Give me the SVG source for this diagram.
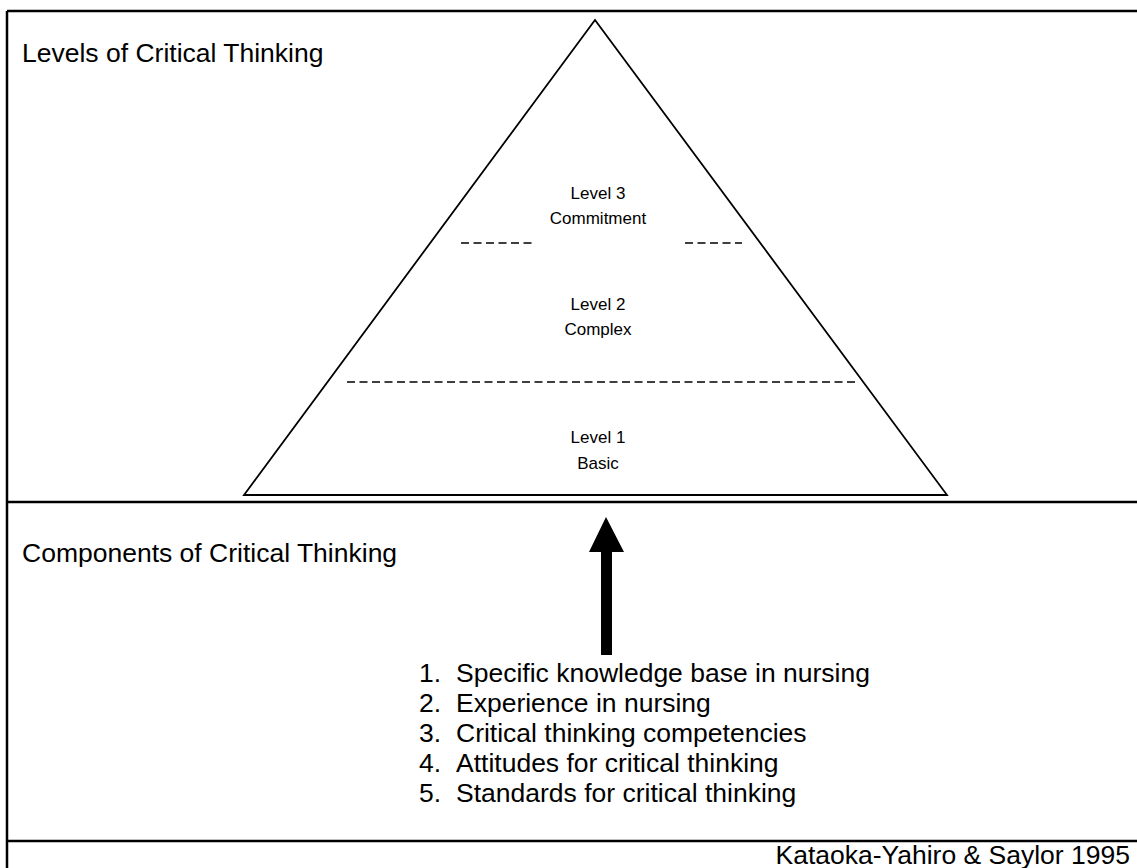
<svg xmlns="http://www.w3.org/2000/svg" width="1137" height="868" viewBox="0 0 1137 868">
<style>
.t{font-family:"Liberation Sans",Arial,sans-serif;fill:#000}
.big{font-size:26.5px}
.lvl{font-size:17px;text-anchor:middle}
.frame{stroke:#000;stroke-width:2.5;fill:none}
.dash{stroke:#000;stroke-width:1.5;stroke-dasharray:8 4.5;fill:none}
</style>
<rect width="1137" height="868" fill="#fff"/>
<g id="frame">
<line class="frame" x1="7" y1="11" x2="1137" y2="11"/>
<line class="frame" x1="7" y1="11" x2="7" y2="868"/>
<line class="frame" x1="7" y1="502" x2="1137" y2="502"/>
<line class="frame" x1="7" y1="841" x2="1137" y2="841"/>
</g>
<g id="pyramid">
<polygon points="595,20 244,495 947,495" fill="none" stroke="#000" stroke-width="1.8"/>
<line class="dash" x1="461" y1="243" x2="536" y2="243"/>
<line class="dash" x1="685" y1="243" x2="742" y2="243"/>
<line class="dash" x1="347" y1="382" x2="857" y2="382"/>
</g>
<g id="level3"><text class="t lvl" x="598" y="199">Level 3</text><text class="t lvl" x="598" y="224">Commitment</text></g>
<g id="level2"><text class="t lvl" x="598" y="310">Level 2</text><text class="t lvl" x="598" y="335">Complex</text></g>
<g id="level1"><text class="t lvl" x="598" y="443">Level 1</text><text class="t lvl" x="598" y="469">Basic</text></g>
<g id="headings">
<text class="t big" x="22" y="62">Levels of Critical Thinking</text>
<text class="t big" x="22" y="562">Components of Critical Thinking</text>
</g>
<g id="connectors">
<polygon points="606,517 624,552 612,552 612,655 601,655 601,552 589,552" fill="#000"/>
</g>
<g id="components">
<text class="t big" x="419" y="682">1.</text><text class="t big" x="456" y="682">Specific knowledge base in nursing</text>
<text class="t big" x="419" y="712">2.</text><text class="t big" x="456" y="712">Experience in nursing</text>
<text class="t big" x="419" y="742">3.</text><text class="t big" x="456" y="742">Critical thinking competencies</text>
<text class="t big" x="419" y="772">4.</text><text class="t big" x="456" y="772">Attitudes for critical thinking</text>
<text class="t big" x="419" y="802">5.</text><text class="t big" x="456" y="802">Standards for critical thinking</text>
</g>
<g id="credit"><text class="t big" x="1130" y="864" text-anchor="end">Kataoka-Yahiro &amp; Saylor 1995</text></g>
</svg>
